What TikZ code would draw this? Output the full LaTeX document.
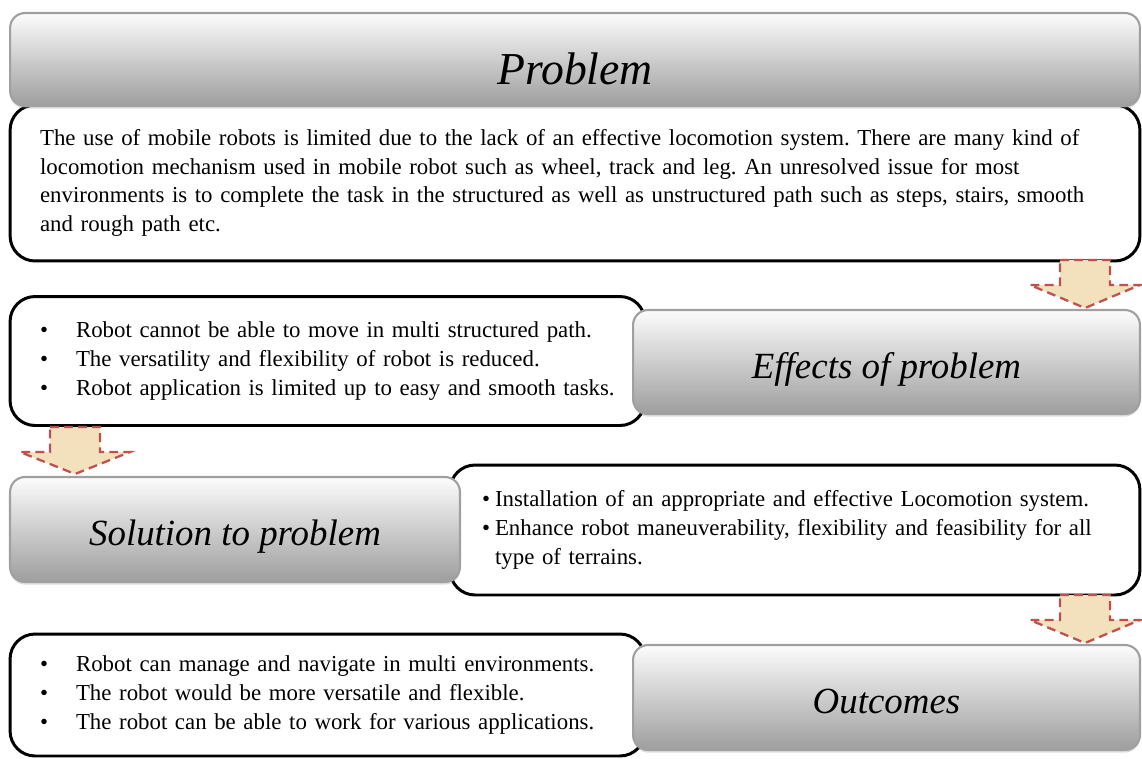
\documentclass[tikz,border=0pt]{standalone}
\usepackage{fontspec}
\setmainfont{Liberation Serif}
\usepackage{tikz}
\usetikzlibrary{shadows}
\frenchspacing

\newcommand{\bl}[1]{\makebox[#1][l]{\textbullet}}
\tikzset{
  titlebox/.style={draw={rgb,255:red,160;green,160;blue,160}, line width=1.2pt,
    rounded corners=0.3cm, top color={rgb,255:red,252;green,252;blue,252},
    bottom color={rgb,255:red,158;green,158;blue,158},
    drop shadow={opacity=0.25, shadow xshift=0pt, shadow yshift=-1.5pt},
    text height=0.64cm, text depth=0pt,
    font=\fontsize{21}{25}\selectfont\itshape},
  textbox/.style={draw=black, line width=1.7pt, fill=white, rounded corners=0.5cm,
    align=left, inner ysep=0pt, font=\fontsize{13}{16.4}\selectfont},
  downarrow/.style={draw={rgb,255:red,192;green,80;blue,77}, line width=1.3pt,
    dash pattern=on 5pt off 3pt, fill={rgb,255:red,242;green,225;blue,188}}
}

\begin{document}
\begin{tikzpicture}[x=0.02cm, y=-0.02cm]
\useasboundingbox (0,0) rectangle (1142,758);

\node[textbox, minimum width=22.6cm, minimum height=3.12cm, text width=21.4cm, inner xsep=0.6cm]
  (probtext) at (575,183) {The use of mobile robots is limited due to the lack of an effective locomotion system. There are many kind of\\
  locomotion mechanism used in mobile robot such as wheel, track and leg. An unresolved issue for most\\
  environments is to complete the task in the structured as well as unstructured path such as steps, stairs, smooth\\
  and rough path etc.};
\node[titlebox, minimum width=22.6cm, minimum height=1.86cm, text height=1cm, font=\fontsize{26}{30}\selectfont\itshape]
  (prob) at (575,59.5) {Problem};

\node[textbox, minimum width=12.7cm, minimum height=2.58cm, text width=11.5cm, inner xsep=0.6cm]
  (efftext) at (327.5,361) {\bl{0.72cm}Robot cannot be able to move in multi structured path.\\
  \bl{0.72cm}The versatility and flexibility of robot is reduced.\\
  \bl{0.72cm}Robot application is limited up to easy and smooth tasks.};
\node[titlebox, minimum width=10.14cm, minimum height=2.08cm] (eff) at (886.5,362) {Effects of problem};

\node[textbox, minimum width=13.8cm, minimum height=2.6cm, text width=12.52cm, inner xsep=0.64cm]
  (soltext) at (795,530) {\bl{0.26cm}Installation of an appropriate and effective Locomotion system.\\
  \bl{0.26cm}Enhance robot maneuverability, flexibility and feasibility for all\\
  \hspace*{0.26cm}type of terrains.};
\node[titlebox, minimum width=9cm, minimum height=2.1cm] (sol) at (235,529.5) {Solution to problem};

\node[textbox, minimum width=12.7cm, minimum height=2.44cm, text width=11.5cm, inner xsep=0.6cm]
  (outtext) at (327.5,695) {\bl{0.72cm}Robot can manage and navigate in multi environments.\\
  \bl{0.72cm}The robot would be more versatile and flexible.\\
  \bl{0.72cm}The robot can be able to work for various applications.};
\node[titlebox, minimum width=10.14cm, minimum height=2.1cm] (out) at (886.5,697.5) {Outcomes};

\draw[downarrow, shift={(1085,260)}] (-25,0) -- (25,0) -- (25,25) -- (55,25) -- (0,48) -- (-55,25) -- (-25,25) -- cycle;
\draw[downarrow, shift={(75,427)}] (-25,0) -- (25,0) -- (25,25) -- (55,25) -- (0,47) -- (-55,25) -- (-25,25) -- cycle;
\draw[downarrow, shift={(1085,595)}] (-25,0) -- (25,0) -- (25,25) -- (55,25) -- (0,48) -- (-55,25) -- (-25,25) -- cycle;
\end{tikzpicture}
\end{document}
